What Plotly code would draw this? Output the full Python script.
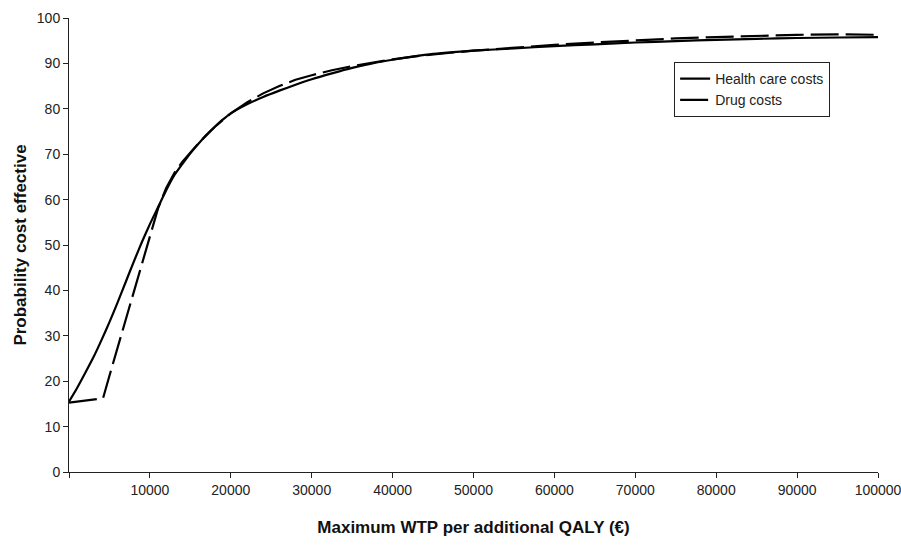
import plotly.graph_objects as go

# WTP thresholds (€)
hc_x = [0, 1000, 2000, 3000, 4000, 5000, 6000, 7000, 8000, 9000, 10000, 11000, 12000,
        13000, 14000, 15000, 16000, 17000, 18000, 19000, 20000, 22000, 24000, 26000,
        28000, 30000, 32500, 35000, 37500, 40000, 42500, 45000, 47500, 50000, 55000,
        60000, 65000, 70000, 75000, 80000, 85000, 90000, 95000, 100000]
hc_y = [15.5, 18.5, 21.8, 25.2, 29.0, 33.0, 37.3, 41.8, 46.3, 50.6, 54.6, 58.3, 62.0,
        65.3, 67.8, 70.2, 72.3, 74.3, 76.0, 77.6, 79.0, 81.0, 82.6, 84.0,
        85.3, 86.5, 87.8, 89.0, 90.0, 90.8, 91.5, 92.1, 92.5, 92.8, 93.3,
        93.8, 94.2, 94.6, 94.9, 95.2, 95.4, 95.6, 95.7, 95.8]

drug_x = [0, 4200, 5000, 6000, 7000, 8000, 9000, 10000, 11000, 12000, 13000, 14000,
          15000, 16000, 17000, 18000, 19000, 20000, 22000, 24000, 26000, 28000, 30000,
          32500, 35000, 37500, 40000, 42500, 45000, 47500, 50000, 55000, 60000, 65000,
          70000, 75000, 80000, 85000, 90000, 95000, 100000]
drug_y = [15.3, 16.2, 21.2, 27.4, 33.6, 39.8, 46.0, 52.2, 58.0, 62.5, 65.8, 68.3,
          70.4, 72.4, 74.2, 76.0, 77.5, 79.0, 81.4, 83.4, 85.0, 86.4, 87.4,
          88.5, 89.4, 90.2, 90.9, 91.5, 92.0, 92.4, 92.8, 93.5, 94.1, 94.6,
          95.1, 95.5, 95.8, 96.1, 96.3, 96.4, 96.3]

x_tick_vals = [0, 10000, 20000, 30000, 40000, 50000, 60000, 70000, 80000, 90000, 100000]
x_tick_text = ["", "10000", "20000", "30000", "40000", "50000", "60000", "70000",
               "80000", "90000", "100000"]
y_tick_vals = [0, 10, 20, 30, 40, 50, 60, 70, 80, 90, 100]

FONT = "Liberation Sans, Arial, sans-serif"

fig = go.Figure()
fig.add_trace(go.Scatter(x=hc_x, y=hc_y, mode="lines", name="Health care costs",
                         line=dict(color="black", width=2.2, shape="spline", smoothing=0.6)))
fig.add_trace(go.Scatter(x=drug_x, y=drug_y, mode="lines", name="Drug costs",
                         line=dict(color="black", width=2.2, dash="28px,7px")))

fig.update_layout(
    width=901, height=548,
    margin=dict(l=69, r=23, t=18, b=76, autoexpand=False),
    paper_bgcolor="white", plot_bgcolor="white",
    font=dict(family=FONT, color="#222", size=14),
    showlegend=True,
    legend=dict(x=0.748, y=0.903, xanchor="left", yanchor="top",
                bordercolor="#222", borderwidth=1, bgcolor="white",
                font=dict(size=14, family=FONT, color="#222"),
                tracegroupgap=0, itemwidth=30),
    xaxis=dict(range=[0, 100000], tickvals=x_tick_vals, ticktext=x_tick_text,
               automargin=False, ticklabeloverflow="allow",
               showgrid=False, zeroline=False, showline=True, linecolor="#222",
               linewidth=1, ticks="outside", ticklen=5, tickcolor="#222",
               tickfont=dict(size=14, family=FONT, color="#222"),
               title=dict(text="<b>Maximum WTP per additional QALY (€)</b>",
                          font=dict(size=17, family=FONT, color="#111"), standoff=24)),
    yaxis=dict(range=[0, 100], tickvals=y_tick_vals, automargin=False,
               showgrid=False, zeroline=False, showline=True, linecolor="#222",
               linewidth=1, ticks="outside", ticklen=5, tickcolor="#222",
               tickfont=dict(size=14, family=FONT, color="#222"),
               title=dict(text="<b>Probability cost effective</b>",
                          font=dict(size=17, family=FONT, color="#111"), standoff=5)),
)

fig.write_html("out.html", config={"displayModeBar": False},
               post_script="document.body.style.margin='0';document.body.style.overflow='hidden';")
